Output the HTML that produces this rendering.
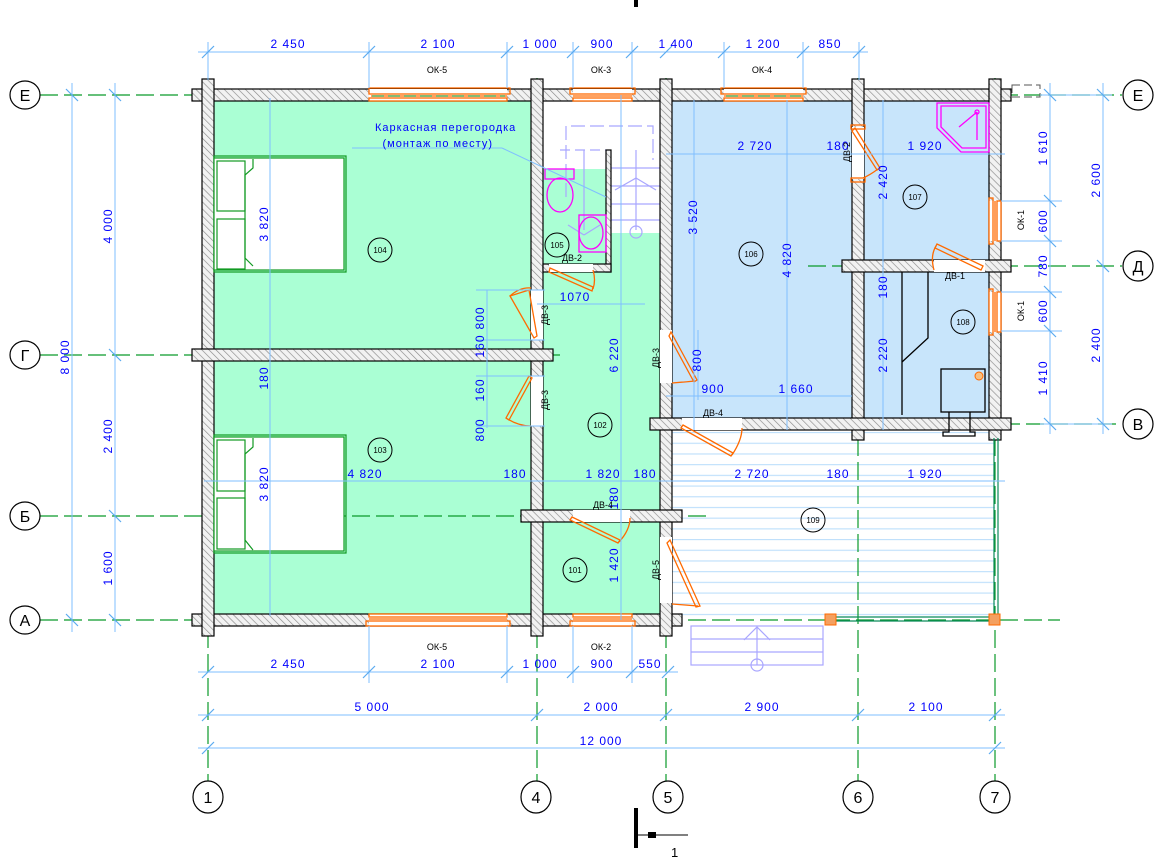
<!DOCTYPE html>
<html><head><meta charset="utf-8"><style>
html,body{margin:0;padding:0;background:#fff}
svg{display:block}
.d{fill:#0000ff;font-family:"Liberation Sans",sans-serif;font-size:12px;letter-spacing:1px}
.k{fill:#000;font-family:"Liberation Sans",sans-serif;font-size:9px}
.dl{stroke:#7fbfff;stroke-width:1;fill:none}
.tk{stroke:#5aaaf0;stroke-width:1.2}
.w{fill:url(#h);stroke:#000;stroke-width:1.2}
.ax{stroke:#0a9a2a;stroke-width:1.2;stroke-dasharray:18 6;fill:none}
.or{stroke:#ff6a00;stroke-width:1.3;fill:none}
.ac{fill:#fff;stroke:#000;stroke-width:1.2}
.at{font-family:"Liberation Sans",sans-serif;font-size:16px;fill:#000}
.rn{fill:none;stroke:#000;stroke-width:1}
.st{stroke:#a9a6ff;stroke-width:1.2;fill:none}
</style></head><body>
<svg width="1175" height="862" viewBox="0 0 1175 862" xmlns="http://www.w3.org/2000/svg">
<defs>
<pattern id="h" width="5" height="5" patternUnits="userSpaceOnUse" patternTransform="rotate(-45)">
<rect width="5" height="5" fill="#f2f2f2"/><line x1="0" y1="0" x2="0" y2="5" stroke="#8a8a8a" stroke-width="1.3"/>
</pattern>
<pattern id="tr" width="10" height="10.7" patternUnits="userSpaceOnUse" y="432">
<line x1="0" y1="0.5" x2="10" y2="0.5" stroke="#bfe0fb" stroke-width="1.3"/>
</pattern>
</defs>

<!-- room fills -->
<rect x="214" y="101" width="317" height="248" fill="#aaffd4"/>
<rect x="214" y="361" width="317" height="253" fill="#aaffd4"/>
<rect x="543" y="233" width="117" height="277" fill="#aaffd4"/>
<rect x="543" y="169" width="63" height="100" fill="#aaffd4"/>
<rect x="543" y="522" width="117" height="92" fill="#aaffd4"/>
<rect x="672" y="101" width="180" height="317" fill="#c8e5fb"/>
<rect x="864" y="101" width="125" height="159" fill="#c8e5fb"/>
<rect x="864" y="272" width="125" height="146" fill="#c8e5fb"/>
<rect x="672" y="430" width="323" height="188" fill="url(#tr)"/>

<!-- stairs -->
<g class="st">
<polyline points="566,197 566,126 653,126 653,160" stroke-dasharray="14 5"/>
<line x1="560" y1="150" x2="606" y2="150" stroke-dasharray="10 5"/>
<line x1="611" y1="168" x2="660" y2="168"/><line x1="611" y1="186" x2="660" y2="186"/>
<line x1="611" y1="204" x2="660" y2="204"/><line x1="611" y1="220" x2="660" y2="220"/>
<line x1="636" y1="150" x2="636" y2="230"/>
<line x1="615" y1="190" x2="636" y2="178"/><line x1="656" y1="190" x2="636" y2="178"/>
<circle cx="636" cy="232" r="6"/>
<line x1="584" y1="150" x2="584" y2="230"/>
<line x1="568" y1="225" x2="584" y2="235"/><line x1="600" y1="225" x2="584" y2="235"/>
</g>
<!-- porch steps -->
<g class="st">
<rect x="691" y="626" width="132" height="39"/>
<line x1="691" y1="639" x2="823" y2="639"/><line x1="691" y1="652" x2="823" y2="652"/>
<line x1="757" y1="627" x2="757" y2="665"/><polyline points="744,640 757,627 770,640"/>
<circle cx="757" cy="665" r="6"/>
</g>

<!-- axis lines -->
<g class="ax">
<line x1="40" y1="95" x2="1122" y2="95"/>
<line x1="40" y1="355" x2="560" y2="355"/>
<line x1="40" y1="516" x2="710" y2="516"/>
<line x1="40" y1="620" x2="1060" y2="620"/>
<line x1="808" y1="266" x2="1122" y2="266"/>
<line x1="690" y1="424" x2="1122" y2="424"/>
<line x1="208" y1="78" x2="208" y2="782"/>
<line x1="537" y1="78" x2="537" y2="782"/>
<line x1="666" y1="78" x2="666" y2="782"/>
<line x1="858" y1="78" x2="858" y2="782"/>
<line x1="995" y1="78" x2="995" y2="782"/>
</g>

<!-- walls -->
<g class="w">
<rect x="192" y="89" width="819" height="12"/>
<rect x="192" y="614" width="490" height="12"/>
<rect x="202" y="79" width="12" height="557"/>
<rect x="989" y="79" width="12" height="361"/>
<rect x="531" y="79" width="12" height="557"/>
<rect x="660" y="79" width="12" height="557"/>
<rect x="852" y="79" width="12" height="361"/>
<rect x="192" y="349" width="361" height="12"/>
<rect x="842" y="260" width="169" height="12"/>
<rect x="650" y="418" width="361" height="12"/>
<rect x="521" y="510" width="161" height="12"/>
<rect x="606" y="150" width="5" height="122"/>
<rect x="543" y="264" width="68" height="8"/>
</g>
<!-- cover inner wall edges at joins -->
<g fill="url(#h)">
<rect x="203" y="90" width="10" height="10"/><rect x="532" y="90" width="10" height="10"/><rect x="661" y="90" width="10" height="10"/><rect x="853" y="90" width="10" height="10"/><rect x="990" y="90" width="10" height="10"/>
<rect x="203" y="615" width="10" height="10"/><rect x="532" y="615" width="10" height="10"/><rect x="661" y="615" width="10" height="10"/>
<rect x="203" y="350" width="10" height="10"/><rect x="532" y="350" width="10" height="10"/>
<rect x="853" y="261" width="10" height="10"/><rect x="990" y="261" width="10" height="10"/>
<rect x="661" y="419" width="10" height="10"/><rect x="853" y="419" width="10" height="10"/><rect x="990" y="419" width="10" height="10"/>
<rect x="532" y="511" width="10" height="10"/><rect x="661" y="511" width="10" height="10"/>
</g>

<!-- door openings (white gaps) -->
<g fill="#fff">
<rect x="531" y="290" width="12" height="50"/>
<rect x="531" y="376" width="12" height="50"/>
<rect x="549" y="264" width="44" height="8"/>
<rect x="660" y="330" width="12" height="53"/>
<rect x="660" y="537" width="12" height="66"/>
<rect x="682" y="418" width="60" height="12"/>
<rect x="573" y="510" width="57" height="12"/>
<rect x="852" y="127" width="12" height="52"/>
<rect x="934" y="260" width="51" height="12"/>
</g>
<!-- windows -->
<g>
<rect x="369" y="89" width="138" height="12" fill="#fff"/><rect x="573" y="89" width="59" height="12" fill="#fff"/><rect x="724" y="89" width="79" height="12" fill="#fff"/>
<rect x="369" y="614" width="138" height="12" fill="#fff"/><rect x="573" y="614" width="59" height="12" fill="#fff"/>
<rect x="989" y="201" width="12" height="40" fill="#fff"/><rect x="989" y="292" width="12" height="40" fill="#fff"/>
</g>
<g class="or">
<rect x="369" y="88" width="141" height="6"/><line x1="371" y1="96" x2="507" y2="96"/><rect x="369" y="98" width="138" height="3"/>
<rect x="570" y="88" width="65" height="6"/><line x1="573" y1="96" x2="632" y2="96"/><rect x="573" y="98" width="59" height="3"/>
<rect x="721" y="88" width="85" height="6"/><line x1="724" y1="96" x2="803" y2="96"/><rect x="724" y="98" width="79" height="3"/>
<rect x="369" y="614" width="138" height="3"/><line x1="369" y1="619" x2="507" y2="619"/><rect x="366" y="621" width="144" height="5"/>
<rect x="573" y="614" width="59" height="3"/><line x1="573" y1="619" x2="632" y2="619"/><rect x="570" y="621" width="65" height="5"/>
<rect x="989" y="198" width="4" height="46"/><line x1="995" y1="201" x2="995" y2="241"/><rect x="997" y="201" width="4" height="40"/>
<rect x="989" y="289" width="4" height="46"/><line x1="995" y1="292" x2="995" y2="332"/><rect x="997" y="292" width="4" height="40"/>
</g>
<line x1="372" y1="96" x2="505" y2="96" stroke="#0a9a2a" stroke-dasharray="12 4"/>
<line x1="726" y1="96" x2="801" y2="96" stroke="#0a9a2a" stroke-dasharray="12 4"/>

<!-- door leaves -->
<g class="or">
<polygon points="529,290 510,296 534,338 537,336"/><path d="M510,296 Q520,287 531,288"/>
<polygon points="529,376 506,418 509,420 532,378"/><path d="M506,418 Q518,426 531,426"/>
<polygon points="550,268 593,287 592,291 549,272"/><path d="M593,289 Q596,280 593,270"/>
<polygon points="671,332 697,380 694,382 669,336"/><path d="M695,381 Q685,382 672,383"/>
<polygon points="683,425 733,453 731,456 681,428"/><path d="M732,455 Q742,440 742,428"/>
<polygon points="572,517 620,540 618,543 570,520"/><path d="M619,542 Q630,530 630,518"/>
<polygon points="670,540 700,606 696,607 667,543"/><path d="M698,606 Q685,605 672,604"/>
<polygon points="855,128 880,168 877,170 852,131"/><path d="M878,169 Q870,175 863,178"/>
<polygon points="983,266 937,244 935,248 981,270"/><path d="M936,246 Q930,256 934,270"/>
<rect x="851" y="125" width="14" height="4"/><rect x="851" y="178" width="14" height="4"/>
</g>

<!-- terrace rail -->
<g stroke="#0a8a5a" fill="none" stroke-width="1.2">
<line x1="994" y1="438" x2="994" y2="617"/><line x1="998" y1="438" x2="998" y2="617"/>
<line x1="836" y1="617" x2="994" y2="617"/><line x1="836" y1="621" x2="994" y2="621"/>
</g>
<rect x="825" y="614" width="11" height="11" fill="#f4a060" stroke="#ff6a00"/>
<rect x="989" y="614" width="11" height="11" fill="#f4a060" stroke="#ff6a00"/>
<rect x="1012" y="85" width="28" height="12" fill="none" stroke="#555" stroke-dasharray="8 4"/>

<!-- beds -->
<g stroke="#119a22" fill="none" stroke-width="1.2">
<rect x="214" y="156" width="132" height="116"/><rect x="214" y="158" width="130" height="112" fill="#fff"/>
<rect x="217" y="161" width="28" height="50" fill="#fff"/><rect x="217" y="219" width="28" height="50" fill="#fff"/>
<polyline points="253,159 253,168 245,175 245,258 253,266"/>
<rect x="214" y="435" width="132" height="118"/><rect x="214" y="437" width="130" height="114" fill="#fff"/>
<rect x="217" y="440" width="28" height="51" fill="#fff"/><rect x="217" y="498" width="28" height="51" fill="#fff"/>
<polyline points="253,438 253,447 245,454 245,540 253,550"/>
</g>

<!-- sanitary -->
<g stroke="#ff00ff" fill="none" stroke-width="1.3">
<rect x="545" y="169" width="29" height="10"/><ellipse cx="560" cy="195" rx="13" ry="17"/>
<rect x="579" y="215" width="27" height="37"/><ellipse cx="591" cy="233" rx="12" ry="16"/>
<polygon points="937,103 989,103 989,152 961,152 937,128"/>
<polygon points="941,106 986,106 986,148 962,148 941,127"/>
<line x1="977" y1="112" x2="977" y2="140"/><line x1="977" y1="112" x2="959" y2="127"/><circle cx="977" cy="112" r="2"/>
</g>

<!-- stove 108 -->
<g stroke="#000" fill="none" stroke-width="1.3">
<polyline points="902,272 902,415"/><polyline points="928,272 928,338 902,362"/>
<rect x="941" y="369" width="44" height="43"/>
<polyline points="949,412 949,432 943,432 943,436 975,436 975,432 970,432 970,412"/>
</g>
<circle cx="979" cy="376" r="4" fill="#f8c080" stroke="#ff6a00"/>

<!-- dimension lines -->
<g class="dl">
<line x1="198" y1="52" x2="868" y2="52"/>
<line x1="208" y1="42" x2="208" y2="80"/><line x1="369" y1="42" x2="369" y2="88"/><line x1="507" y1="42" x2="507" y2="88"/><line x1="573" y1="42" x2="573" y2="88"/><line x1="632" y1="42" x2="632" y2="88"/><line x1="724" y1="42" x2="724" y2="88"/><line x1="803" y1="42" x2="803" y2="88"/><line x1="859" y1="42" x2="859" y2="80"/>
<line x1="198" y1="672" x2="678" y2="672"/>
<line x1="369" y1="626" x2="369" y2="683"/><line x1="507" y1="626" x2="507" y2="683"/><line x1="573" y1="626" x2="573" y2="683"/><line x1="632" y1="626" x2="632" y2="683"/>
<line x1="198" y1="715" x2="1005" y2="715"/>
<line x1="198" y1="748" x2="1005" y2="748"/>
<line x1="72" y1="83" x2="72" y2="632"/><line x1="115" y1="83" x2="115" y2="632"/>
<line x1="1050" y1="83" x2="1050" y2="434"/><line x1="1103" y1="83" x2="1103" y2="434"/>
<line x1="1001" y1="201" x2="1062" y2="201"/><line x1="1001" y1="241" x2="1062" y2="241"/><line x1="1001" y1="292" x2="1062" y2="292"/><line x1="1001" y1="331" x2="1062" y2="331"/>
<line x1="1040" y1="95" x2="1112" y2="95"/><line x1="1040" y1="424" x2="1112" y2="424"/>
<line x1="666" y1="154" x2="1005" y2="154"/>
<line x1="204" y1="481" x2="1005" y2="481"/>
<line x1="270" y1="98" x2="270" y2="616"/>
<line x1="487" y1="290" x2="487" y2="428"/><line x1="476" y1="290" x2="545" y2="290"/><line x1="476" y1="340" x2="545" y2="340"/><line x1="476" y1="376" x2="545" y2="376"/><line x1="476" y1="426" x2="545" y2="426"/>
<line x1="537" y1="304" x2="645" y2="304"/>
<line x1="621" y1="95" x2="621" y2="620"/>
<line x1="694" y1="100" x2="694" y2="430"/><line x1="787" y1="100" x2="787" y2="430"/><line x1="883" y1="100" x2="883" y2="430"/>
<line x1="666" y1="396" x2="852" y2="396"/><line x1="698" y1="330" x2="698" y2="400"/>
<line x1="352" y1="148" x2="502" y2="148"/><polyline points="502,148 606,197"/>
</g>
<g class="tk">
<line x1="202" y1="58" x2="214" y2="46"/><line x1="363" y1="58" x2="375" y2="46"/><line x1="501" y1="58" x2="513" y2="46"/><line x1="567" y1="58" x2="579" y2="46"/><line x1="626" y1="58" x2="638" y2="46"/><line x1="660" y1="58" x2="672" y2="46"/><line x1="718" y1="58" x2="730" y2="46"/><line x1="797" y1="58" x2="809" y2="46"/><line x1="853" y1="58" x2="865" y2="46"/>
<line x1="202" y1="678" x2="214" y2="666"/><line x1="363" y1="678" x2="375" y2="666"/><line x1="501" y1="678" x2="513" y2="666"/><line x1="567" y1="678" x2="579" y2="666"/><line x1="626" y1="678" x2="638" y2="666"/><line x1="662" y1="678" x2="674" y2="666"/>
<line x1="202" y1="721" x2="214" y2="709"/><line x1="531" y1="721" x2="543" y2="709"/><line x1="660" y1="721" x2="672" y2="709"/><line x1="852" y1="721" x2="864" y2="709"/><line x1="989" y1="721" x2="1001" y2="709"/>
<line x1="202" y1="754" x2="214" y2="742"/><line x1="989" y1="754" x2="1001" y2="742"/>
<line x1="66" y1="89" x2="78" y2="101"/><line x1="66" y1="614" x2="78" y2="626"/>
<line x1="109" y1="89" x2="121" y2="101"/><line x1="109" y1="349" x2="121" y2="361"/><line x1="109" y1="510" x2="121" y2="522"/><line x1="109" y1="614" x2="121" y2="626"/>
<line x1="1044" y1="89" x2="1056" y2="101"/><line x1="1044" y1="195" x2="1056" y2="207"/><line x1="1044" y1="235" x2="1056" y2="247"/><line x1="1044" y1="286" x2="1056" y2="298"/><line x1="1044" y1="325" x2="1056" y2="337"/><line x1="1044" y1="418" x2="1056" y2="430"/>
<line x1="1097" y1="89" x2="1109" y2="101"/><line x1="1097" y1="260" x2="1109" y2="272"/><line x1="1097" y1="418" x2="1109" y2="430"/>
</g>

<!-- dimension texts -->
<g class="d" text-anchor="middle">
<text x="288" y="48">2 450</text><text x="438" y="48">2 100</text><text x="540" y="48">1 000</text><text x="602" y="48">900</text><text x="676" y="48">1 400</text><text x="763" y="48">1 200</text><text x="830" y="48">850</text>
<text x="288" y="668">2 450</text><text x="438" y="668">2 100</text><text x="540" y="668">1 000</text><text x="602" y="668">900</text><text x="650" y="668">550</text>
<text x="372" y="711">5 000</text><text x="601" y="711">2 000</text><text x="762" y="711">2 900</text><text x="926" y="711">2 100</text>
<text x="601" y="745">12 000</text>
<text x="755" y="150">2 720</text><text x="838" y="150">180</text><text x="925" y="150">1 920</text>
<text x="365" y="478">4 820</text><text x="515" y="478">180</text><text x="603" y="478">1 820</text><text x="645" y="478">180</text><text x="752" y="478">2 720</text><text x="838" y="478">180</text><text x="925" y="478">1 920</text>
<text x="575" y="301">1070</text><text x="713" y="393">900</text><text x="796" y="393">1 660</text>
</g>
<g class="d" text-anchor="middle">
<text transform="translate(112,226) rotate(-90)">4 000</text>
<text transform="translate(112,436) rotate(-90)">2 400</text>
<text transform="translate(112,568) rotate(-90)">1 600</text>
<text transform="translate(69,357) rotate(-90)">8 000</text>
<text transform="translate(1047,148) rotate(-90)">1 610</text>
<text transform="translate(1047,221) rotate(-90)">600</text>
<text transform="translate(1047,266) rotate(-90)">780</text>
<text transform="translate(1047,311) rotate(-90)">600</text>
<text transform="translate(1047,378) rotate(-90)">1 410</text>
<text transform="translate(1100,180) rotate(-90)">2 600</text>
<text transform="translate(1100,345) rotate(-90)">2 400</text>
<text transform="translate(268,224) rotate(-90)">3 820</text>
<text transform="translate(268,378) rotate(-90)">180</text>
<text transform="translate(268,484) rotate(-90)">3 820</text>
<text transform="translate(484,318) rotate(-90)">800</text>
<text transform="translate(484,346) rotate(-90)">160</text>
<text transform="translate(484,390) rotate(-90)">160</text>
<text transform="translate(484,430) rotate(-90)">800</text>
<text transform="translate(618,355) rotate(-90)">6 220</text>
<text transform="translate(618,498) rotate(-90)">180</text>
<text transform="translate(618,565) rotate(-90)">1 420</text>
<text transform="translate(697,217) rotate(-90)">3 520</text>
<text transform="translate(791,260) rotate(-90)">4 820</text>
<text transform="translate(887,182) rotate(-90)">2 420</text>
<text transform="translate(887,287) rotate(-90)">180</text>
<text transform="translate(887,355) rotate(-90)">2 220</text>
<text transform="translate(701,360) rotate(-90)">800</text>
</g>
<text class="d" x="375" y="131" style="font-size:11px">Каркасная перегородка</text>
<text class="d" x="493" y="147" text-anchor="end" style="font-size:11px">(монтаж по месту)</text>

<!-- window/door labels -->
<g class="k" text-anchor="middle">
<text x="437" y="73">ОК-5</text><text x="601" y="73">ОК-3</text><text x="762" y="73">ОК-4</text>
<text x="437" y="650">ОК-5</text><text x="601" y="650">ОК-2</text>
<text x="572" y="261">ДВ-2</text><text x="713" y="416">ДВ-4</text><text x="603" y="508">ДВ-4</text><text x="955" y="279">ДВ-1</text>
<text transform="translate(548,315) rotate(-90)">ДВ-3</text>
<text transform="translate(548,400) rotate(-90)">ДВ-3</text>
<text transform="translate(659,358) rotate(-90)">ДВ-3</text>
<text transform="translate(659,570) rotate(-90)">ДВ-5</text>
<text transform="translate(850,152) rotate(-90)">ДВ-2</text>
<text transform="translate(1024,220) rotate(-90)">ОК-1</text>
<text transform="translate(1024,311) rotate(-90)">ОК-1</text>
</g>

<!-- room numbers -->
<g class="rn">
<circle cx="380" cy="250" r="12"/><circle cx="380" cy="450" r="12"/><circle cx="600" cy="425" r="12"/><circle cx="575" cy="570" r="12"/><circle cx="557" cy="245" r="12"/><circle cx="751" cy="254" r="12"/><circle cx="915" cy="197" r="12"/><circle cx="963" cy="322" r="12"/><circle cx="813" cy="520" r="12"/>
</g>
<g class="k" text-anchor="middle" style="font-size:8px">
<text x="380" y="253">104</text><text x="380" y="453">103</text><text x="600" y="428">102</text><text x="575" y="573">101</text><text x="557" y="248">105</text><text x="751" y="257">106</text><text x="915" y="200">107</text><text x="963" y="325">108</text><text x="813" y="523">109</text>
</g>

<!-- axis markers -->
<g>
<ellipse class="ac" cx="25" cy="95" rx="15" ry="14"/><ellipse class="ac" cx="25" cy="355" rx="15" ry="14"/><ellipse class="ac" cx="25" cy="516" rx="15" ry="14"/><ellipse class="ac" cx="25" cy="620" rx="15" ry="14"/>
<ellipse class="ac" cx="1138" cy="95" rx="15" ry="15"/><ellipse class="ac" cx="1138" cy="266" rx="15" ry="15"/><ellipse class="ac" cx="1138" cy="424" rx="15" ry="15"/>
<ellipse class="ac" cx="208" cy="797" rx="15" ry="16"/><ellipse class="ac" cx="536" cy="797" rx="15" ry="16"/><ellipse class="ac" cx="668" cy="797" rx="15" ry="16"/><ellipse class="ac" cx="858" cy="797" rx="15" ry="16"/><ellipse class="ac" cx="995" cy="797" rx="15" ry="16"/>
</g>
<g class="at" text-anchor="middle">
<text x="25" y="101">Е</text><text x="25" y="361">Г</text><text x="25" y="522">Б</text><text x="25" y="626">А</text>
<text x="1138" y="101">Е</text><text x="1138" y="272">Д</text><text x="1138" y="430">В</text>
<text x="208" y="803">1</text><text x="536" y="803">4</text><text x="668" y="803">5</text><text x="858" y="803">6</text><text x="995" y="803">7</text>
</g>

<!-- section marks -->
<rect x="634" y="0" width="4" height="7" fill="#000"/>
<rect x="634" y="808" width="4" height="40" fill="#000"/>
<line x1="636" y1="835" x2="688" y2="835" stroke="#000" stroke-width="1"/>
<rect x="648" y="832" width="8" height="6" fill="#000"/>
<text x="671" y="857" style="font-family:'Liberation Sans',sans-serif;font-size:13px">1</text>
</svg>
</body></html>
